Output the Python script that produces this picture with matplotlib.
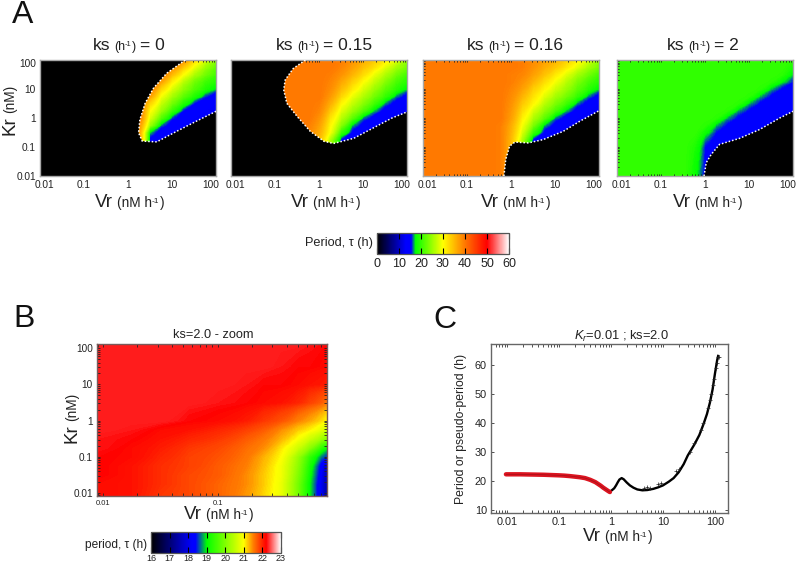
#!/usr/bin/env python
import matplotlib
matplotlib.use("Agg")
import matplotlib.pyplot as plt
import matplotlib.transforms as mtransforms
import numpy as np
from matplotlib.colors import LinearSegmentedColormap, Normalize
from matplotlib.cm import ScalarMappable
from matplotlib.ticker import LogLocator, NullFormatter

plt.rcParams["font.family"] = ["Liberation Sans", "DejaVu Sans"]
plt.rcParams["mathtext.fontset"] = "custom"
plt.rcParams["mathtext.rm"] = "Liberation Sans"
plt.rcParams["mathtext.it"] = "Liberation Sans:italic"

W, H = 800, 563

# panel A: period (h), rows run from Kr=100 down to Kr=0.01
vr_grid = [0.01, 0.1, 0.178, 0.316, 0.562, 1, 1.78, 3.16, 5.62, 10, 17.8, 31.6, 56.2, 100]
kr_grid = [100, 56.2, 31.6, 17.8, 10, 5.62, 3.16, 1.78, 1, 0.562, 0.316, 0.178, 0.1, 0.01]

period_ks0 = [
    [40, 40, 40, 40, 40, 40, 40, 40, 40, 40, 38.5, 33, 28, 24],
    [40, 40, 40, 40, 40, 40, 40, 40, 40, 38.5, 34, 29, 25, 22],
    [40, 40, 40, 40, 40, 40, 40, 40, 39.5, 35, 30, 26, 23, 20.5],
    [40, 40, 40, 40, 40, 40, 40, 40, 37, 31, 26.5, 23, 20.5, 19],
    [40, 40, 40, 40, 40, 40, 40, 39.5, 33, 28, 24.5, 21.5, 19, 17],
    [40, 40, 40, 40, 40, 40, 40, 37, 29.5, 25.5, 22, 19, 16, 14],
    [40, 40, 40, 40, 40, 40, 40, 33, 27, 23, 19, 15.5, 14, 13],
    [40, 40, 40, 40, 40, 40, 40, 30, 25, 20, 15.5, 14, 13, 13],
    [40, 40, 40, 40, 40, 40, 40, 28, 21.5, 16, 14, 13, 13, 13],
    [40, 40, 40, 40, 40, 40, 38, 25, 16.5, 14, 13, 13, 13, 13],
    [40, 40, 40, 40, 40, 40, 37, 17, 14, 13, 13, 13, 13, 13],
    [40, 40, 40, 40, 40, 40, 38, 15, 14, 13, 13, 13, 13, 13],
    [40, 40, 40, 40, 40, 40, 38, 15, 14, 13, 13, 13, 13, 13],
    [40, 40, 40, 40, 40, 40, 38, 15, 14, 13, 13, 13, 13, 13],
]
period_ks015 = [
    [40, 40, 40, 40, 40, 40, 40, 39.5, 38, 36, 34, 31.5, 28.5, 24.5],
    [40, 40, 40, 40, 40, 40, 40, 39, 37, 34.5, 32, 28.5, 25.5, 23],
    [40, 40, 40, 40, 40, 40, 39.5, 38, 35.5, 32.5, 29, 26, 23, 20.5],
    [40, 40, 40, 40, 40, 40, 39, 36.5, 33.5, 30, 27, 24, 21, 19],
    [40, 40, 40, 40, 40, 40, 38.5, 35, 31.5, 28, 25, 22, 19.5, 17],
    [40, 40, 40, 40, 40, 40, 37.5, 33, 29, 26, 23, 20, 16.5, 14.5],
    [40, 40, 40, 40, 40, 39.5, 36, 30.5, 27, 24, 20.5, 16.5, 14.5, 13],
    [40, 40, 40, 40, 40, 39, 34, 28.5, 25, 21.5, 17, 14.5, 13, 13],
    [40, 40, 40, 40, 40, 38, 32, 26.5, 22, 16.5, 14.5, 13, 13, 13],
    [40, 40, 40, 40, 39.5, 37, 30.5, 24, 17, 14.5, 13, 13, 13, 13],
    [40, 40, 40, 40, 39, 36, 29.5, 20, 15, 14, 13, 13, 13, 13],
    [40, 40, 40, 40, 39, 35, 26, 15.5, 14, 13, 13, 13, 13, 13],
    [40, 40, 40, 40, 39, 35, 26, 15.5, 14, 13, 13, 13, 13, 13],
    [40, 40, 40, 40, 39, 35, 26, 15.5, 14, 13, 13, 13, 13, 13],
]
period_ks016 = [
    [40, 40, 40, 40, 40, 40, 39.5, 38.5, 37, 35.5, 33.5, 31, 28, 24.5],
    [40, 40, 40, 40, 40, 40, 39.5, 38, 36, 34, 31.5, 28.5, 25.5, 23],
    [40, 40, 40, 40, 40, 39.5, 39, 37, 34.5, 31.5, 28.5, 25.5, 23, 20.5],
    [40, 40, 40, 40, 40, 39.5, 38, 35.5, 32.5, 29.5, 26.5, 23.5, 21, 19],
    [40, 40, 40, 40, 40, 39, 37, 33.5, 30.5, 27.5, 25, 22, 19.5, 17],
    [40, 40, 40, 40, 40, 38.5, 35.5, 32, 28.5, 25.5, 23, 20, 16.5, 14.5],
    [40, 40, 40, 40, 40, 38, 34, 30.5, 26.5, 23.5, 20.5, 16.5, 14.5, 13],
    [40, 40, 40, 40, 40, 37.5, 32.5, 28, 24.5, 21, 17, 14.5, 13, 13],
    [40, 40, 40, 40, 40, 37, 31, 26, 22, 16.5, 14.5, 13, 13, 13],
    [40, 40, 40, 40, 39.5, 36, 29.5, 23.5, 17, 14.5, 13, 13, 13, 13],
    [40, 40, 40, 40, 39.5, 35.5, 28, 20, 15, 14, 13, 13, 13, 13],
    [40, 40, 40, 40, 39.5, 35, 26, 15.5, 14, 13, 13, 13, 13, 13],
    [40, 40, 40, 40, 39.5, 35, 26, 15.5, 14, 13, 13, 13, 13, 13],
    [40, 40, 40, 40, 39.5, 35, 26, 15.5, 14, 13, 13, 13, 13, 13],
]
period_ks2 = [
    [20, 20, 20, 20, 20, 20, 20, 20, 20, 20, 20, 20, 20, 19.5],
    [20, 20, 20, 20, 20, 20, 20, 20, 20, 20, 20, 20, 20, 18.5],
    [20, 20, 20, 20, 20, 20, 20, 20, 20, 20, 20, 20, 19.5, 16.9],
    [20, 20, 20, 20, 20, 20, 20, 20, 20, 20, 20, 19.5, 17.5, 15.5],
    [20, 20, 20, 20, 20, 20, 20, 20, 20, 20, 19.5, 16.9, 15.2, 14],
    [20, 20, 20, 20, 20, 20, 20, 20, 20, 19.5, 16.9, 15.2, 14, 14],
    [20, 20, 20, 20, 20, 20, 20, 20, 19.5, 16.9, 15.2, 14, 14, 14],
    [20, 20, 20, 20, 20, 20, 20, 19.5, 16.8, 15.2, 14, 14, 14, 14],
    [20, 20, 20, 20, 20, 20, 19.5, 16.8, 15.2, 14, 14, 14, 14, 14],
    [20, 20, 20, 20, 20, 19.5, 16.9, 15.2, 14, 14, 14, 14, 14, 14],
    [20, 20, 20, 20, 20, 18, 15.5, 14, 14, 14, 14, 14, 14, 14],
    [20, 20, 20, 20, 19.5, 16.5, 14.5, 14, 14, 14, 14, 14, 14, 14],
    [20, 20, 20, 20, 19, 15.5, 14.5, 14, 14, 14, 14, 14, 14, 14],
    [20, 20, 20, 20, 18, 15, 14, 14, 14, 14, 14, 14, 14, 14],
]

# edge of the oscillation domain in each map (Vr, Kr)
edge_ks0_v = [20, 7.6, 3.8, 2.45, 1.86, 1.74, 2.1, 4.5, 12.9, 36, 100]
edge_ks0_k = [100, 35, 10.7, 3.2, 0.87, 0.31, 0.16, 0.15, 0.35, 0.78, 1.7]
edge_ks015_v = [0.49, 0.26, 0.17, 0.158, 0.186, 0.316, 0.63, 1.29, 2.14, 6.2, 17.4, 45.7, 100]
edge_ks015_k = [100, 51, 20.4, 9.3, 3.2, 1.15, 0.35, 0.158, 0.132, 0.2, 0.46, 1.0, 1.62]
edge_ks016_v = [0.69, 0.76, 0.93, 1.23, 2.45, 5.4, 15.5, 37, 100]
edge_ks016_k = [0.01, 0.037, 0.107, 0.148, 0.138, 0.18, 0.35, 0.78, 1.78]
edge_ks2_v = [0.95, 1.07, 1.38, 2.14, 6.2, 17.4, 50, 100]
edge_ks2_k = [0.01, 0.029, 0.055, 0.123, 0.2, 0.4, 1, 1.7]

ks_names = ["0", "0.15", "0.16", "2"]
decade_ticks = [0.01, 0.1, 1, 10, 100]
decade_labels = ["0.01", "0.1", "1", "10", "100"]
period_ticks = [0, 10, 20, 30, 40, 50, 60]

# panel B
zoom_vr = [0.0089, 0.0178, 0.0316, 0.0562, 0.1, 0.178, 0.251, 0.355, 0.501, 0.631, 0.794, 0.9]
zoom_kr = [130, 31.6, 10, 3.16, 1, 0.562, 0.316, 0.178, 0.1, 0.0562, 0.0316, 0.0178, 0.0083]
zoom_period = [
    [22.3, 22.3, 22.3, 22.3, 22.3, 22.3, 22.3, 22.3, 22.3, 22.25, 22.22, 22.2],
    [22.3, 22.3, 22.3, 22.3, 22.3, 22.3, 22.3, 22.25, 22.2, 22.2, 22.17, 22.15],
    [22.3, 22.3, 22.3, 22.3, 22.3, 22.25, 22.2, 22.2, 22.15, 22.1, 22.07, 22.05],
    [22.3, 22.3, 22.3, 22.3, 22.25, 22.2, 22.15, 22.1, 22.0, 21.85, 21.7, 21.55],
    [22.3, 22.3, 22.3, 22.2, 22.15, 22.05, 21.9, 21.75, 21.5, 21.35, 21.15, 21.0],
    [22.3, 22.25, 22.15, 22.1, 22.0, 21.85, 21.7, 21.45, 21.2, 21.05, 20.8, 20.6],
    [22.25, 22.2, 22.1, 22.0, 21.9, 21.7, 21.55, 21.3, 20.95, 20.6, 20.25, 20.0],
    [22.25, 22.15, 22.05, 21.9, 21.8, 21.6, 21.45, 21.1, 20.6, 20.1, 19.4, 19.0],
    [22.2, 22.15, 22.0, 21.85, 21.75, 21.55, 21.3, 21.0, 20.2, 19.4, 18.7, 18.45],
    [22.2, 22.1, 21.95, 21.85, 21.7, 21.5, 21.25, 20.9, 20.1, 19.2, 18.3, 17.6],
    [22.2, 22.1, 21.95, 21.8, 21.7, 21.45, 21.2, 20.9, 20.0, 19.1, 18.2, 17.5],
    [22.15, 22.1, 21.95, 21.8, 21.65, 21.45, 21.2, 20.85, 19.9, 19.0, 18.1, 17.4],
    [22.15, 22.1, 21.9, 21.8, 21.65, 21.4, 21.15, 20.85, 19.9, 19.0, 18.1, 17.3],
]
zoom_ticks = [16, 17, 18, 19, 20, 21, 22, 23]

# panel C
damped_vr = [0.0095, 0.0126, 0.0178, 0.025, 0.0355, 0.05, 0.0708, 0.1, 0.126, 0.158,
             0.2, 0.25, 0.316, 0.398, 0.5, 0.631, 0.708, 0.794, 0.891, 0.95]
damped_period = [22.3, 22.3, 22.3, 22.25, 22.2, 22.15, 22.05, 21.95, 21.85, 21.7,
                 21.5, 21.3, 21.0, 20.4, 19.6, 18.4, 17.7, 17.1, 16.5, 16.2]
sustained_vr = [0.95, 1.05, 1.15, 1.25, 1.35, 1.45, 1.6, 1.75, 2, 2.3, 2.7, 3.2, 4, 5, 6.5,
                8, 10, 13, 16, 20, 25, 30, 40, 50, 60, 70, 80, 90, 100, 110, 115]
sustained_period = [16.3, 16.9, 17.5, 18.5, 19.6, 20.5, 21, 20.6, 19.5, 18.5, 17.7, 17.1, 16.8,
                    16.9, 17.3, 17.8, 18.5, 19.8, 21, 23, 25.8, 28.8, 32.5, 35.8, 39.5, 43, 47,
                    51.5, 57, 61.5, 63]
scatter_vr = [4.3, 5, 5.6, 8, 9, 18, 20, 33, 40, 55, 60, 72, 80, 85, 90, 95, 105, 110, 115, 118]
scatter_period = [17.6, 17.8, 17.7, 18.9, 19.3, 23.5, 24, 30, 33, 37.5, 40, 45, 48, 50,
                  53, 55, 59, 60.5, 62.5, 62.8]


def px_axes(fig, x0, y0, x1, y1):
    return fig.add_axes([x0 / W, 1 - y1 / H, (x1 - x0) / W, (y1 - y0) / H])


def put_text(fig, x, y, pieces, rotation=0):
    # pieces: (text, fontsize, rise in px, gap after in px), x and y in image pixels
    renderer = fig.canvas.get_renderer()
    for text, size, rise, gap in pieces:
        if rotation == 90:
            t = fig.text((x - rise) / W, 1 - y / H, text, fontsize=size, rotation=90,
                         rotation_mode="anchor", ha="left", va="baseline", color="#222222")
            y -= t.get_window_extent(renderer).height + gap
        else:
            t = fig.text(x / W, 1 - (y - rise) / H, text, fontsize=size, ha="left",
                         va="baseline", color="#222222")
            x += t.get_window_extent(renderer).width + gap


def vr_label(fig, x, y):
    put_text(fig, x, y, [("Vr", 13.5, 0, 4), ("(nM h", 9.8, 0, 0), ("-1", 6, 4, 0), (")", 9.8, 0, 0)])


def kr_label(fig, x, y):
    put_text(fig, x, y, [("Kr", 13.5, 0, 3), ("(nM)", 9.8, 0, 0)], rotation=90)


def shift_labels(fig, labels, shifts):
    for label, (dx, dy) in zip(labels, shifts):
        offset = mtransforms.ScaledTranslation(dx / 100, dy / 100, fig.dpi_scale_trans)
        label.set_transform(label.get_transform() + offset)


def log_ticks(axis):
    axis.set_minor_locator(LogLocator(base=10, subs=range(2, 10), numticks=20))
    axis.set_minor_formatter(NullFormatter())


def style_spines(ax, color, width=1.0):
    for spine in ax.spines.values():
        spine.set_color(color)
        spine.set_linewidth(width)


def period_map(fig, box, vr, kr, period, cmap, norm, levels):
    ax = px_axes(fig, *box)
    ax.set_xscale("log")
    ax.set_yscale("log")
    # rows are typed top to bottom, contourf wants ascending Kr
    ax.contourf(vr, kr[::-1], np.array(period)[::-1], levels=levels, cmap=cmap, norm=norm)
    return ax


def colorbar(fig, box, cmap, norm, ticks, size, pad):
    cax = px_axes(fig, *box)
    cb = fig.colorbar(ScalarMappable(norm=norm, cmap=cmap), cax=cax, orientation="horizontal")
    cb.set_ticks(ticks)
    cb.minorticks_off()
    cax.tick_params(axis="x", direction="in", top=True, length=4, width=0.8, pad=pad,
                    labelsize=size, labelcolor="#222222")
    cb.outline.set_edgecolor("#555555")
    cb.outline.set_linewidth(0.9)


fig = plt.figure(figsize=(W / 100, H / 100), dpi=100)

period_cmap = LinearSegmentedColormap.from_list("period", [
    (0, "#000000"), (13 / 60, "#0000ff"), (15.5 / 60, "#0000ff"), (17.5 / 60, "#00ff00"),
    (30 / 60, "#ffff00"), (40 / 60, "#ff7800"), (50 / 60, "#ff0000"), (1, "#ffffff")], N=512)
period_norm = Normalize(0, 60)
period_levels = np.linspace(0, 60, 241)

a_boxes = [(40, 60, 216, 176), (231, 60, 407, 176), (423, 60, 599, 176), (617, 60, 793, 176)]
a_periods = [period_ks0, period_ks015, period_ks016, period_ks2]
a_edges = [(edge_ks0_v, edge_ks0_k), (edge_ks015_v, edge_ks015_k),
           (edge_ks016_v, edge_ks016_k), (edge_ks2_v, edge_ks2_k)]
# the corners closing the black (no oscillation) area
a_corners = [[(100, 0.01), (0.01, 0.01), (0.01, 100)], [(100, 0.01), (0.01, 0.01), (0.01, 100)],
             [(100, 0.01)], [(100, 0.01)]]
title_x = [92.5, 276, 467, 667]
vr_x = [95, 291, 481, 673]

for i, box in enumerate(a_boxes):
    ax = period_map(fig, box, vr_grid, kr_grid, a_periods[i], period_cmap, period_norm, period_levels)
    ev, ek = a_edges[i]
    cv, ck = zip(*a_corners[i])
    ax.fill(list(ev) + list(cv), list(ek) + list(ck), color="black", lw=0, zorder=2)
    ax.plot(ev, ek, color="white", ls=(0, (1, 1.3)), lw=1.1, zorder=3)
    ax.set_xlim(0.01, 100)
    ax.set_ylim(0.01, 100)
    ax.set_xticks(decade_ticks, decade_labels)
    log_ticks(ax.xaxis)
    ax.set_yticks(decade_ticks, decade_labels if i == 0 else [])
    log_ticks(ax.yaxis)
    ax.tick_params(which="both", direction="in", length=1.5, width=0.6, top=True, right=False,
                   color="#111111", labelsize=7.3, labelcolor="#222222", pad=3)
    style_spines(ax, "#a8a8a8")
    shift_labels(fig, ax.get_xticklabels(), [(4, 0), (0, 0), (0, 0), (0, 0), (-5, 0)])
    if i == 0:
        shift_labels(fig, ax.get_yticklabels(), [(0, 0), (0, 0), (0, 0), (0, 0), (0, -3)])
    put_text(fig, title_x[i], 50, [("ks", 12.5, 0, 4), ("(h", 9, 0, 0), ("-1", 5.5, 4, 0), (")", 9, 0, 3.5),
                                    ("= " + ks_names[i], 12.5, 0, 0)])
    vr_label(fig, vr_x[i], 207)

kr_label(fig, 14, 135)
colorbar(fig, (377, 233, 509, 254), period_cmap, period_norm, period_ticks, 9, 3)
fig.text(373 / W, 1 - 243 / H, "Period, τ (h)", fontsize=9.2, ha="right", va="center", color="#222222")

# panel B
zoom_cmap = LinearSegmentedColormap.from_list("zoom", [
    (0, "#000000"), (2.2 / 7, "#0000ff"), (2.4 / 7, "#0000ff"), (3 / 7, "#00ff00"),
    (5 / 7, "#ffff00"), (5.5 / 7, "#ff8000"), (6.2 / 7, "#ff0000"), (1, "#ffffff")], N=512)
zoom_norm = Normalize(16, 23)
axb = period_map(fig, (97, 344, 327, 496), zoom_vr, zoom_kr, zoom_period, zoom_cmap, zoom_norm,
                 np.linspace(16, 23, 281))
axb.set_xlim(0.0089, 0.9)
axb.set_ylim(0.0083, 130)
axb.set_xticks([0.01, 0.1], ["0.01", "0.1"])
log_ticks(axb.xaxis)
axb.set_yticks(decade_ticks, decade_labels)
log_ticks(axb.yaxis)
axb.tick_params(which="both", direction="in", length=2, width=0.6, top=True, right=True, color="#222222")
axb.tick_params(axis="y", labelsize=7.2, labelcolor="#222222", pad=3)
axb.tick_params(axis="x", labelsize=5.5, labelcolor="#222222", pad=3)
style_spines(axb, "#7a5a5a")
fig.text(213 / W, 1 - 338 / H, "ks=2.0 - zoom", fontsize=9.2, ha="center", va="baseline", color="#222222")
kr_label(fig, 76, 443)
vr_label(fig, 184, 519)
colorbar(fig, (151, 532, 281, 553), zoom_cmap, zoom_norm, zoom_ticks, 6.5, 0.5)
fig.text(147 / W, 1 - 545 / H, "period, τ (h)", fontsize=8.6, ha="right", va="center", color="#222222")

# panel C
axc = px_axes(fig, 491, 344, 728, 513)
axc.set_xscale("log")
axc.plot(sustained_vr, sustained_period, color="black", lw=1.7, zorder=2)
axc.plot(scatter_vr, scatter_period, ls="none", marker="+", ms=3.5, mew=0.5, color="#222222", zorder=2)
axc.plot(damped_vr, damped_period, color="#dc1420", lw=3.2, zorder=3, solid_capstyle="round")
axc.plot(damped_vr, damped_period, color="#a01018", lw=0.5, zorder=4)
axc.set_xlim(0.0049, 178)
axc.set_ylim(9, 67.1)
axc.set_xticks(decade_ticks, decade_labels)
log_ticks(axc.xaxis)
axc.set_yticks([10, 20, 30, 40, 50, 60])
axc.tick_params(which="both", direction="in", length=2, width=0.6, top=True, right=True, color="#333333")
axc.tick_params(labelsize=7.8, labelcolor="#222222", pad=3)
style_spines(axc, "#666666")
axc.set_title(r"$K_r$=0.01 ; ks=2.0", fontsize=9.3, color="#222222", pad=2.5)
axc.title.set_position((0.55, 1))
fig.text(461 / W, 1 - 429 / H, "Period or pseudo-period (h)", fontsize=8.8, rotation=90,
         ha="center", va="center", color="#222222")
vr_label(fig, 583, 541)

for letter, x, y in [("A", 12, 23), ("B", 13, 327), ("C", 433, 328)]:
    fig.text(x / W, 1 - y / H, letter, fontsize=23, ha="left", va="baseline", color="#111111")

fig.savefig("out.png", dpi=100)
